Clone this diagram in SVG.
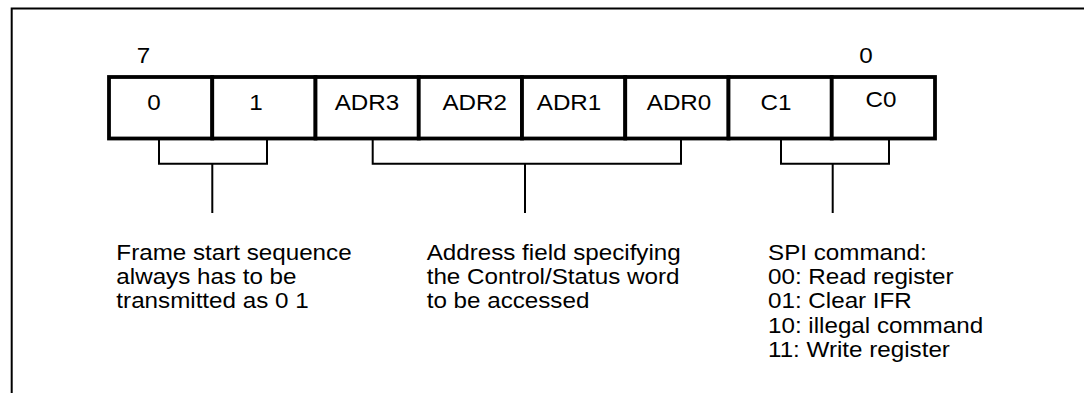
<svg xmlns="http://www.w3.org/2000/svg" width="1084" height="393" viewBox="0 0 1084 393">
  <style>
    .t { font-family: "Liberation Sans", Arial, sans-serif; font-size: 22px; fill: #000; }
    .m { text-anchor: middle; }
    .frame { fill: none; stroke: #000; stroke-width: 2; }
    .box { fill: #fff; stroke: #000; stroke-width: 3.8; }
    .br { fill: none; stroke: #000; stroke-width: 2; }
  </style>
  <rect width="1084" height="393" fill="#fff"/>
  <g id="frame">
    <path class="frame" d="M11.7,393 V8.5 H1084"/>
  </g>
  <g id="bit-labels" transform="scale(1.1 1)">
    <text class="t m" x="130.45" y="62.7">7</text>
    <text class="t m" x="787.3" y="62.7">0</text>
  </g>
  <g id="bit7">
    <rect class="box" x="109" y="77" width="103.25" height="61.5"/>
    <text class="t m" transform="scale(1.1 1)" x="140" y="110">0</text>
  </g>
  <g id="bit6">
    <rect class="box" x="212.25" y="77" width="103.25" height="61.5"/>
    <text class="t m" transform="scale(1.1 1)" x="232.7" y="110">1</text>
  </g>
  <g id="bit5">
    <rect class="box" x="315.5" y="77" width="103.25" height="61.5"/>
    <text class="t m" transform="scale(1.1 1)" x="333.6" y="110">ADR3</text>
  </g>
  <g id="bit4">
    <rect class="box" x="418.75" y="77" width="103.25" height="61.5"/>
    <text class="t m" transform="scale(1.1 1)" x="431.5" y="110">ADR2</text>
  </g>
  <g id="bit3">
    <rect class="box" x="522" y="77" width="103.25" height="61.5"/>
    <text class="t m" transform="scale(1.1 1)" x="517.3" y="110">ADR1</text>
  </g>
  <g id="bit2">
    <rect class="box" x="625.25" y="77" width="103.25" height="61.5"/>
    <text class="t m" transform="scale(1.1 1)" x="617.3" y="110">ADR0</text>
  </g>
  <g id="bit1">
    <rect class="box" x="728.5" y="77" width="103.25" height="61.5"/>
    <text class="t m" transform="scale(1.1 1)" x="705.5" y="110">C1</text>
  </g>
  <g id="bit0">
    <rect class="box" x="831.75" y="77" width="103.25" height="61.5"/>
    <text class="t m" transform="scale(1.1 1)" x="800.9" y="106.7">C0</text>
  </g>
  <g id="connectors">
    <path class="br" d="M159,140 V163.7 H267 V140 M212.3,163.7 V213"/>
    <path class="br" d="M372.7,140 V163.7 H681 V140 M525,163.7 V213"/>
    <path class="br" d="M781,140 V163.7 H889 V140 M832.7,163.7 V213"/>
  </g>
  <g id="note-frame" transform="scale(1.1 1)">
    <text class="t" x="105.8" y="260">Frame start sequence</text>
    <text class="t" x="105.8" y="284.2">always has to be</text>
    <text class="t" x="105.8" y="308.4">transmitted as 0 1</text>
  </g>
  <g id="note-address" transform="scale(1.1 1)">
    <text class="t" x="387.9" y="260">Address field specifying</text>
    <text class="t" x="387.9" y="284.2">the Control/Status word</text>
    <text class="t" x="387.9" y="308.4">to be accessed</text>
  </g>
  <g id="note-command" transform="scale(1.1 1)">
    <text class="t" x="698.2" y="260">SPI command:</text>
    <text class="t" x="698.2" y="284.2">00: Read register</text>
    <text class="t" x="698.2" y="308.4">01: Clear IFR</text>
    <text class="t" x="698.2" y="332.6">10: illegal command</text>
    <text class="t" x="698.2" y="356.8">11: Write register</text>
  </g>
</svg>
